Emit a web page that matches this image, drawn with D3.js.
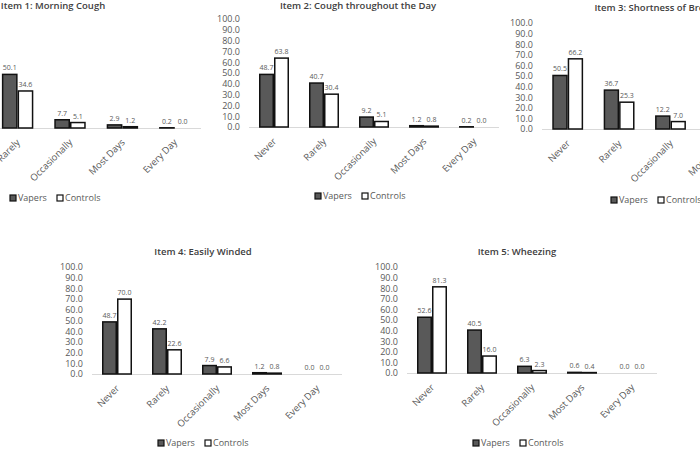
<!DOCTYPE html>
<html>
<head>
<meta charset="utf-8">
<script src="https://cdn.jsdelivr.net/npm/d3@7"></script>
<style>
  html, body { margin: 0; padding: 0; background: #fff; overflow: hidden; }
  svg { display: block; font-family: "Open Sans", sans-serif; }
</style>
</head>
<body>
<svg id="chart" width="700" height="450"></svg>
<script>
// ---- data ----
const categories = ["Never", "Rarely", "Occasionally", "Most Days", "Every Day"];
const seriesNames = ["Vapers", "Controls"];
const titles = [
  "Item 1: Morning Cough",
  "Item 2: Cough throughout the Day",
  "Item 3: Shortness of Breath",
  "Item 4: Easily Winded",
  "Item 5: Wheezing"
];
const item1Vapers   = [39.1, 50.1, 7.7, 2.9, 0.2];
const item1Controls = [59.1, 34.6, 5.1, 1.2, 0.0];
const item2Vapers   = [48.7, 40.7, 9.2, 1.2, 0.2];
const item2Controls = [63.8, 30.4, 5.1, 0.8, 0.0];
const item3Vapers   = [50.5, 36.7, 12.2, 0.6, 0.0];
const item3Controls = [66.2, 25.3, 7.0, 1.5, 0.0];
const item4Vapers   = [48.7, 42.2, 7.9, 1.2, 0.0];
const item4Controls = [70.0, 22.6, 6.6, 0.8, 0.0];
const item5Vapers   = [52.6, 40.5, 6.3, 0.6, 0.0];
const item5Controls = [81.3, 16.0, 2.3, 0.4, 0.0];
const yTicks = [0, 10, 20, 30, 40, 50, 60, 70, 80, 90, 100];

const vapersAll = [item1Vapers, item2Vapers, item3Vapers, item4Vapers, item5Vapers];
const controlsAll = [item1Controls, item2Controls, item3Controls, item4Controls, item5Controls];

// ---- layout (per panel) ----
const panels = [
  { x0: -61, x1: 201, y0: 128, yTop: 21, titleX: 53,  titleY: 9,   legX: 10,  legY: 198 },
  { x0: 249, x1: 499, y0: 127, yTop: 19, titleX: 358, titleY: 9,   legX: 315, legY: 196 },
  { x0: 542, x1: 799, y0: 129, yTop: 23, titleX: 657, titleY: 11,  legX: 611, legY: 200 },
  { x0: 92,  x1: 342, y0: 374, yTop: 267, titleX: 203, titleY: 255, legX: 158, legY: 443 },
  { x0: 407, x1: 657, y0: 373, yTop: 267, titleX: 517, titleY: 255, legX: 473, legY: 443 }
];

const svg = d3.select("#chart");
const textGray = "#595959";
const darkFill = "#595959";
const fmt = d3.format(".1f");

panels.forEach((p, i) => {
  const g = svg.append("g");
  const x = d3.scaleBand().domain(categories).range([p.x0, p.x1]).paddingInner(0.4).paddingOuter(0.2);
  const xs = d3.scaleBand().domain(seriesNames).range([0, x.bandwidth()]);
  const y = d3.scaleLinear().domain([0, 100]).range([p.y0, p.yTop]);

  // title
  g.append("text")
    .attr("x", p.titleX).attr("y", p.titleY)
    .attr("text-anchor", "middle")
    .attr("font-size", 9.5).attr("font-weight", 600)
    .attr("fill", "#404040")
    .text(titles[i]);

  // y axis (labels only) - only when it lies inside the picture
  if (p.x0 - 9 > 0) {
    const yAxis = d3.axisLeft(y).tickValues(yTicks).tickFormat(fmt).tickSize(0).tickPadding(0);
    const ya = g.append("g").attr("transform", `translate(${p.x0 - 9},0)`).call(yAxis);
    ya.select(".domain").remove();
    ya.selectAll("text").attr("font-size", 9).attr("fill", textGray)
      .attr("font-family", "Open Sans, sans-serif");
  }

  // baseline
  g.append("line")
    .attr("x1", p.x0).attr("x2", p.x1)
    .attr("y1", p.y0 + 0.5).attr("y2", p.y0 + 0.5)
    .attr("stroke", "#d9d9d9").attr("stroke-width", 1);

  // x axis labels
  const xAxis = d3.axisBottom(x).tickSize(0).tickPadding(0);
  const xa = g.append("g").attr("transform", `translate(0,${p.y0})`).call(xAxis);
  xa.select(".domain").remove();
  xa.selectAll(".tick").filter(d => x(d) + x.bandwidth() < 0).remove();
  xa.selectAll("text")
    .attr("font-size", 9.5).attr("fill", textGray)
    .attr("font-family", "Open Sans, sans-serif")
    .attr("text-anchor", "end")
    .attr("dy", null)
    .attr("transform", "translate(3,15) rotate(-45)");

  const series = [vapersAll[i], controlsAll[i]];
  series.forEach((vals, si) => {
    const name = seriesNames[si];
    g.append("g").selectAll("rect").data(vals).join("rect")
      .attr("x", (d, k) => x(categories[k]) + xs(name) + 0.75)
      .attr("y", d => y(d))
      .attr("width", xs.bandwidth() - 1.5)
      .attr("height", d => Math.max(0, y(0) - y(d)))
      .attr("fill", si === 0 ? darkFill : "#ffffff")
      .attr("stroke", "#111")
      .attr("stroke-width", 1.5);
    g.append("g").selectAll("text")
      .data(vals.map((v, k) => ({ v, k })).filter(o => x(categories[o.k]) + x.bandwidth() > 0))
      .join("text")
      .attr("x", o => x(categories[o.k]) + xs(name) + xs.bandwidth() / 2)
      .attr("y", o => y(o.v) - 4)
      .attr("text-anchor", "middle")
      .attr("font-size", 7).attr("fill", textGray)
      .text(o => fmt(o.v));
  });

  // legend
  const lg = g.append("g").attr("transform", `translate(${p.legX},${p.legY})`);
  seriesNames.forEach((name, si) => {
    const ox = si * 47;
    lg.append("rect").attr("x", ox).attr("y", -3).attr("width", 6).attr("height", 6)
      .attr("fill", si === 0 ? darkFill : "#fff").attr("stroke", "#111").attr("stroke-width", 1.2);
    lg.append("text").attr("x", ox + 8).attr("y", 3.2)
      .attr("font-size", 9).attr("fill", textGray).text(name);
  });
});
</script>
</body>
</html>
